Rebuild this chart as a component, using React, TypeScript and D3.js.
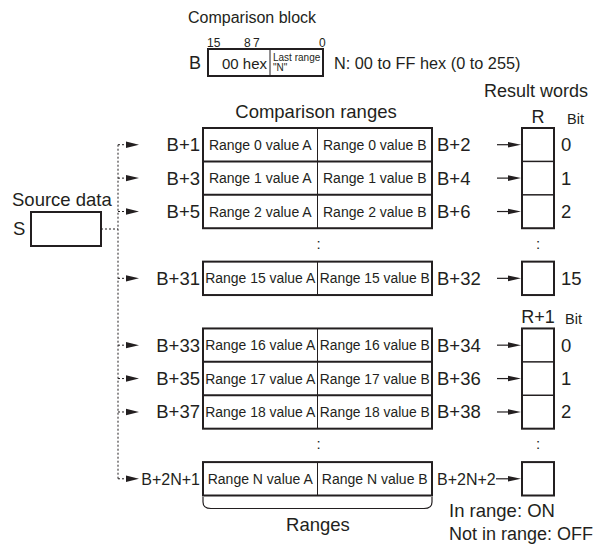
import React from 'react';
import * as d3 from 'd3';

// row slots (one slot = one table row height); slots 3, 5 and 9 are gaps
const rowSlots = [0, 1, 2, 4, 6, 7, 8, 10];
const leftLabels = ['B+1', 'B+3', 'B+5', 'B+31', 'B+33', 'B+35', 'B+37', 'B+2N+1'];
const rightLabels = ['B+2', 'B+4', 'B+6', 'B+32', 'B+34', 'B+36', 'B+38', 'B+2N+2'];
const rangeIds = ['0', '1', '2', '15', '16', '17', '18', 'N'];
const bitLabels = ['0', '1', '2', '15', '0', '1', '2', ''];
// table blocks as [first slot, last slot + 1]
const blocks: [number, number][] = [[0, 3], [4, 5], [6, 9], [10, 11]];
const ellipsisSlots = [3, 9];
const wordLabels = [{ name: 'R', slot: 0 }, { name: 'R+1', slot: 6 }];

const FONT = '"Liberation Sans", Arial, Helvetica, sans-serif';

const App: React.FC = () => {
  const W = 597, H = 547;
  const y = d3.scaleLinear().domain([0, 11]).range([128, 495.5]);
  const rowH = y(1) - y(0);
  const xCol = d3.scaleLinear().domain([0, 2]).range([203, 432]);
  const rx0 = 522, rx1 = 554;
  const trunkX = 118;

  const arrowHead = (tipX: number, cy: number, len: number, half: number) =>
    `M${tipX},${cy} L${tipX - len},${cy - half} L${tipX - len},${cy + half} Z`;

  const cellText = (x: number, cy: number, label: string) => (
    <text x={x} y={cy + 5} fontSize={14} textAnchor="middle"
      {...(label.length > 15 ? { textLength: 110, lengthAdjust: 'spacingAndGlyphs' } : {})}>
      {label}
    </text>
  );

  return (
    <svg width={W} height={H} style={{ position: 'absolute', left: 0, top: 0, background: '#fff' }}
      fontFamily={FONT} fill="#231f20">
      {/* Comparison block */}
      <text x={188} y={23} fontSize={16}>Comparison block</text>
      <text x={207} y={47} fontSize={12}>15</text>
      <text x={244} y={47} fontSize={12}>8</text>
      <text x={253} y={47} fontSize={12}>7</text>
      <text x={319} y={47} fontSize={12}>0</text>
      <text x={189} y={69} fontSize={18}>B</text>
      <rect x={208} y={49} width={115} height={27} fill="none" stroke="#231f20" strokeWidth={2} />
      <line x1={270} x2={270} y1={49} y2={76} stroke="#231f20" strokeWidth={1} />
      <text x={222} y={69} fontSize={15}>00 hex</text>
      <text x={273} y={61} fontSize={10}>Last range</text>
      <text x={273} y={71} fontSize={10}>"N"</text>
      <text x={334} y={69} fontSize={16.3}>N: 00 to FF hex (0 to 255)</text>

      {/* headings */}
      <text x={316} y={118} fontSize={18.5} textAnchor="middle">Comparison ranges</text>
      <text x={484} y={97} fontSize={18}>Result words</text>
      {wordLabels.map(w => (
        <g key={w.name}>
          <text x={(rx0 + rx1) / 2} y={y(w.slot) - 5} fontSize={18} textAnchor="middle">{w.name}</text>
          <text x={w.slot === 0 ? 567 : 565} y={y(w.slot) - 4} fontSize={14.5}>Bit</text>
        </g>
      ))}

      {/* Source data */}
      <text x={12} y={206} fontSize={18.5}>Source data</text>
      <text x={13} y={235} fontSize={18.5}>S</text>
      <rect x={31} y={212} width={70} height={34} fill="none" stroke="#231f20" strokeWidth={2} />
      <line x1={101} x2={trunkX} y1={229} y2={229} stroke="#231f20" strokeWidth={1} strokeDasharray="2,2" />
      <line x1={trunkX} x2={trunkX} y1={y(rowSlots[0]) + rowH / 2} y2={y(rowSlots[rowSlots.length - 1]) + rowH / 2}
        stroke="#231f20" strokeWidth={1} strokeDasharray="2,2" />

      {/* table blocks and result word boxes */}
      {blocks.map(([s, e], i) => (
        <g key={i}>
          <rect x={xCol(0)} y={y(s)} width={xCol(2) - xCol(0)} height={y(e) - y(s)}
            fill="none" stroke="#231f20" strokeWidth={2} />
          <line x1={xCol(1)} x2={xCol(1)} y1={y(s)} y2={y(e)} stroke="#231f20" strokeWidth={1} />
          <rect x={rx0} y={y(s)} width={rx1 - rx0} height={y(e) - y(s)}
            fill="none" stroke="#231f20" strokeWidth={2} />
        </g>
      ))}

      {rowSlots.map((s, i) => {
        const cy = y(s) + rowH / 2;
        const last = i === rowSlots.length - 1;
        const first = blocks.some(b => b[0] === s);
        return (
          <g key={i}>
            {!first && (
              <>
                <line x1={xCol(0)} x2={xCol(2)} y1={y(s)} y2={y(s)} stroke="#231f20" strokeWidth={2} />
                <line x1={rx0} x2={rx1} y1={y(s)} y2={y(s)} stroke="#231f20" strokeWidth={1.5} />
              </>
            )}
            {cellText((xCol(0) + xCol(1)) / 2, cy, `Range ${rangeIds[i]} value A`)}
            {cellText((xCol(1) + xCol(2)) / 2, cy, `Range ${rangeIds[i]} value B`)}
            <text x={200} y={cy + 6.5} fontSize={leftLabels[i].length > 5 ? 16 : 18.5} textAnchor="end">
              {leftLabels[i]}
            </text>
            <text x={437} y={cy + 6.5} fontSize={rightLabels[i].length > 5 ? 16 : 18.5}>{rightLabels[i]}</text>
            {bitLabels[i] && <text x={561} y={cy + 6.5} fontSize={18.5}>{bitLabels[i]}</text>}
            {/* source arrow */}
            <line x1={trunkX} x2={126} y1={cy} y2={cy} stroke="#231f20" strokeWidth={1} strokeDasharray="2,2" />
            <path d={arrowHead(139, cy, 13, 3.2)} />
            {/* result arrow */}
            <line x1={last ? 496 : 497} x2={509} y1={cy} y2={cy} stroke="#231f20" strokeWidth={1.2} />
            <path d={arrowHead(521, cy, 13, 2.8)} />
          </g>
        );
      })}

      {ellipsisSlots.map(s => (
        <g key={s}>
          <text x={(xCol(0) + xCol(2)) / 2 + 1} y={y(s) + rowH / 2 + 4} fontSize={15} textAnchor="middle">:</text>
          <text x={(rx0 + rx1) / 2} y={y(s) + rowH / 2 + 4} fontSize={15} textAnchor="middle">:</text>
        </g>
      ))}

      {/* brace under the table */}
      <path d={`M${xCol(0)},497 L${xCol(0)},502 Q${xCol(0)},508.5 ${xCol(0) + 8},508.5 L${xCol(2) - 8},508.5 Q${xCol(2)},508.5 ${xCol(2)},502 L${xCol(2)},497`}
        fill="none" stroke="#231f20" strokeWidth={1.2} />
      <text x={318} y={531} fontSize={18.5} textAnchor="middle">Ranges</text>

      <text x={449} y={517} fontSize={18.5}>In range: ON</text>
      <text x={449} y={540} fontSize={18}>Not in range: OFF</text>
    </svg>
  );
};

export default App;
